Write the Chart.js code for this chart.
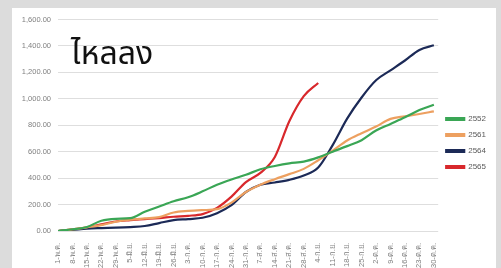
<!DOCTYPE html>
<html>
<head>
<meta charset="utf-8">
<script src="https://cdn.jsdelivr.net/npm/chart.js@4/dist/chart.umd.min.js"></script>
<style>
  html, body { margin: 0; padding: 0; background: #dcdcdc; }
  body { width: 501px; height: 268px; position: relative; overflow: hidden; }
  #panel { position: absolute; left: 12px; top: 8px; width: 484px; height: 260px; background: #fff; }
</style>
</head>
<body>
<div id="panel"><canvas id="flowChart" width="484" height="260"></canvas></div>
<script>
  const titleText = 'ไหลลง';
  const xLabels = [
    '1-พ.ค.', '8-พ.ค.', '15-พ.ค.', '22-พ.ค.', '29-พ.ค.',
    '5-มิ.ย.', '12-มิ.ย.', '19-มิ.ย.', '26-มิ.ย.',
    '3-ก.ค.', '10-ก.ค.', '17-ก.ค.', '24-ก.ค.', '31-ก.ค.',
    '7-ส.ค.', '14-ส.ค.', '21-ส.ค.', '28-ส.ค.',
    '4-ก.ย.', '11-ก.ย.', '18-ก.ย.', '25-ก.ย.',
    '2-ต.ค.', '9-ต.ค.', '16-ต.ค.', '23-ต.ค.', '30-ต.ค.'
  ];
  const seriesNames = ['2552', '2561', '2564', '2565'];
  const y2552 = [0, 13, 30, 78, 92, 97, 145, 185, 225, 255, 300, 350, 390, 425, 467, 492, 512, 525, 557, 600, 642, 687, 760, 810, 860, 915, 955];
  const y2561 = [0, 12, 28, 45, 70, 85, 95, 105, 140, 152, 158, 165, 215, 295, 350, 392, 430, 470, 535, 608, 685, 740, 790, 848, 868, 885, 905];
  const y2564 = [0, 8, 18, 22, 25, 30, 38, 60, 82, 90, 100, 135, 195, 295, 350, 367, 387, 420, 480, 650, 850, 1010, 1140, 1215, 1290, 1370, 1405];
  const y2565 = [0, 13, 26, 50, 72, 82, 90, 98, 108, 115, 128, 175, 260, 370, 440, 560, 830, 1020, 1120];
  const yTicks = [0, 200, 400, 600, 800, 1000, 1200, 1400, 1600];

  const colors = ['#3aa655', '#eda060', '#1c2a57', '#d8282c'];
  const seriesValues = [y2552, y2561, y2564, y2565];

  const titlePlugin = {
    id: 'bigTitle',
    afterDraw(chart) {
      const c = chart.ctx;
      c.save();
      c.font = '32px "Noto Sans Thai", Tahoma, "DejaVu Sans", sans-serif';
      c.fillStyle = '#111';
      c.textBaseline = 'alphabetic';
      c.fillText(titleText, 59, 56);
      c.restore();
    }
  };

  new Chart(document.getElementById('flowChart'), {
    type: 'line',
    data: {
      datasets: seriesNames.map((name, s) => ({
        label: name,
        data: seriesValues[s].map((v, i) => ({ x: i, y: v })),
        borderColor: colors[s],
        backgroundColor: colors[s],
        borderWidth: 2.2,
        pointRadius: 0,
        cubicInterpolationMode: 'monotone',
        fill: false
      }))
    },
    options: {
      responsive: false,
      animation: false,
      layout: { padding: { top: 10, right: 0, left: 0, bottom: 0 } },
      plugins: {
        legend: {
          position: 'right',
          labels: { boxWidth: 18, boxHeight: 2, padding: 8, color: '#595959', font: { size: 8, family: 'Liberation Sans' } }
        },
        tooltip: { enabled: false }
      },
      scales: {
        x: {
          type: 'linear', min: 0, max: 26.3,
          grid: { display: false },
          border: { display: false },
          afterBuildTicks: scale => { scale.ticks = xLabels.map((_, i) => ({ value: i })); },
          afterFit: scale => { scale.height = 37; },
          ticks: {
            autoSkip: false, minRotation: 90, maxRotation: 90, padding: 4,
            color: '#7f7f7f', font: { size: 7.5, family: 'Liberation Sans' },
            callback: v => xLabels[v]
          }
        },
        y: {
          min: 0, max: 1600,
          grid: { color: '#dedede', drawTicks: false },
          border: { display: false },
          afterBuildTicks: scale => { scale.ticks = yTicks.map(v => ({ value: v })); },
          afterFit: scale => { scale.width = 46; },
          ticks: {
            padding: 7, color: '#7f7f7f', font: { size: 7.5, family: 'Liberation Sans' },
            callback: v => v.toLocaleString('en-US', { minimumFractionDigits: 2, maximumFractionDigits: 2 })
          }
        }
      }
    },
    plugins: [titlePlugin]
  });
</script>
</body>
</html>
